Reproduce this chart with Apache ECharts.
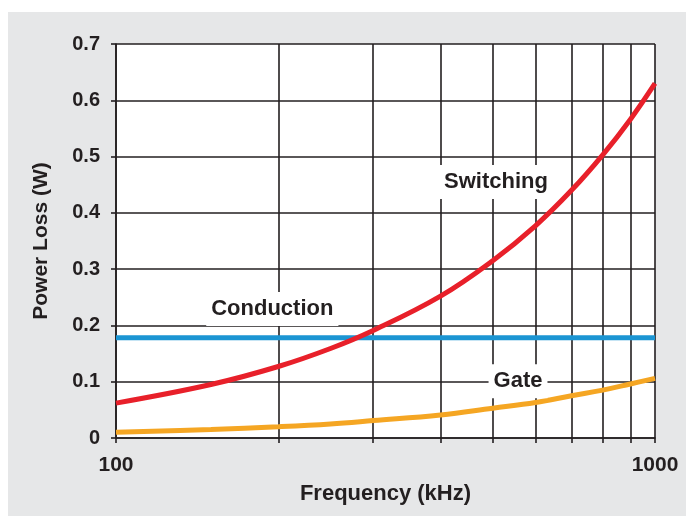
<!DOCTYPE html>
<html>
<head>
<meta charset="utf-8">
<script src="https://cdn.jsdelivr.net/npm/echarts@6/dist/echarts.min.js"></script>
<style>
html,body{margin:0;padding:0;background:#fff;width:686px;height:516px;overflow:hidden;}
#chart{position:absolute;left:8px;top:12px;width:678px;height:504px;background:#e6e7e8;}
</style>
</head>
<body>
<div id="chart"></div>
<script>
// Frequency (kHz) sample points
const freqs = [100, 150, 200, 250, 300, 400, 500, 600, 700, 800, 900, 1000];
// Power loss (W)
const switching = [0.062, 0.095, 0.127, 0.159, 0.191, 0.252, 0.315, 0.377, 0.440, 0.503, 0.566, 0.630];
const conduction = [0.178, 0.178, 0.178, 0.178, 0.178, 0.178, 0.178, 0.178, 0.178, 0.178, 0.178, 0.178];
const gate = [0.010, 0.015, 0.020, 0.025, 0.031, 0.041, 0.053, 0.063, 0.075, 0.085, 0.096, 0.106];
// Axis ticks
const xGridValues = [100, 200, 300, 400, 500, 600, 700, 800, 900, 1000];
const xLabelValues = [100, 1000];
// Annotation labels [frequency, power, text]
const annotations = [
  [507, 0.455, 'Switching'],
  [195, 0.229, 'Conduction'],
  [557, 0.101, 'Gate']
];

const ink = '#231f20';
const font = 'Liberation Sans, Arial, sans-serif';
const pair = arr => freqs.map((f, i) => [f, arr[i]]);

const chart = echarts.init(document.getElementById('chart'), null, {renderer: 'canvas'});
chart.setOption({
  animation: false,
  backgroundColor: '#e6e7e8',
  grid: {left: 108, right: 31, top: 32, bottom: 78, show: true, backgroundColor: '#ffffff', borderWidth: 0},
  xAxis: {
    type: 'log', logBase: 10, min: 100, max: 1000,
    name: 'Frequency (kHz)', nameLocation: 'middle', nameGap: 45,
    nameTextStyle: {fontFamily: font, fontWeight: 'bold', fontSize: 22, color: ink},
    axisLine: {show: true, lineStyle: {color: ink, width: 1.6}},
    axisTick: {show: true, inside: false, length: 5, customValues: xGridValues, lineStyle: {color: ink, width: 1.6}},
    axisLabel: {customValues: xLabelValues, margin: 17, fontFamily: font, fontWeight: 'bold', fontSize: 21, color: ink,
      formatter: v => String(Math.round(v))},
    splitLine: {show: true, lineStyle: {color: ink, width: 1.6}},
    minorTick: {show: false}, minorSplitLine: {show: false}
  },
  yAxis: {
    type: 'value', min: 0, max: 0.7, interval: 0.1,
    name: 'Power Loss (W)', nameLocation: 'middle', nameGap: 64, nameRotate: 90,
    nameTextStyle: {fontFamily: font, fontWeight: 'bold', fontSize: 21, color: ink},
    axisLine: {show: true, lineStyle: {color: ink, width: 1.6}},
    axisTick: {show: true, inside: false, length: 5, lineStyle: {color: ink, width: 1.6}},
    axisLabel: {margin: 16, fontFamily: font, fontWeight: 'bold', fontSize: 20, color: ink,
      formatter: v => (Math.round(v * 10) / 10).toString()},
    splitLine: {show: true, lineStyle: {color: ink, width: 1.6}}
  },
  series: [
    {name: 'Conduction', type: 'line', data: pair(conduction), showSymbol: false, smooth: false,
      lineStyle: {color: '#1b95d3', width: 5}, z: 3},
    {name: 'Gate', type: 'line', data: pair(gate), showSymbol: false, smooth: 0.4,
      lineStyle: {color: '#f5a623', width: 5}, z: 3},
    {name: 'Switching', type: 'line', data: pair(switching), showSymbol: false, smooth: 0.4,
      lineStyle: {color: '#e8202a', width: 5}, z: 4,
      markPoint: {
        symbol: 'rect', symbolSize: 0, silent: true,
        data: annotations.map(a => ({coord: [a[0], a[1]], value: a[2]})),
        label: {show: true, position: 'inside', formatter: p => p.value,
          fontFamily: font, fontWeight: 'bold', fontSize: 22, color: ink,
          backgroundColor: '#ffffff', padding: [6, 5]}
      }}
  ]
});
</script>
</body>
</html>
